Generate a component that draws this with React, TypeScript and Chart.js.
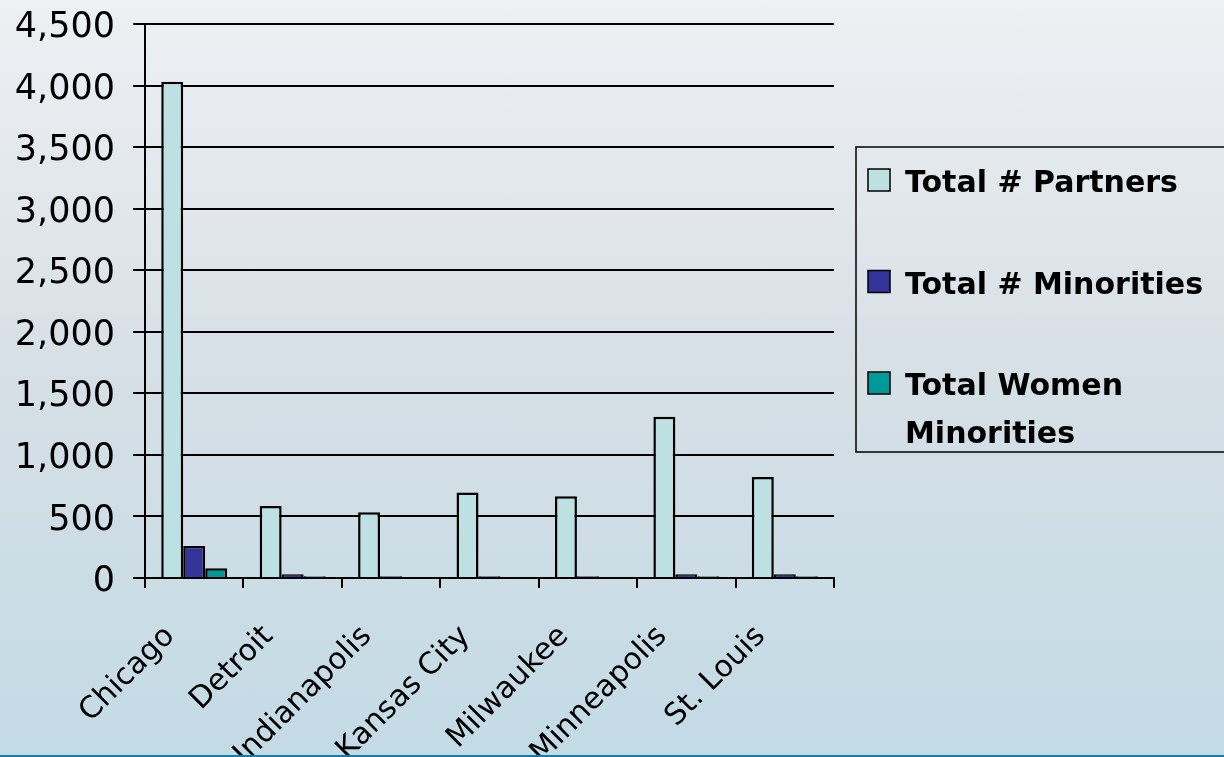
import { useEffect, useRef } from "react";
import { Chart, registerables } from "chart.js";

Chart.register(...registerables);

// Partner counts by office city
const cities = ["Chicago", "Detroit", "Indianapolis", "Kansas City", "Milwaukee", "Minneapolis", "St. Louis"];
const totalPartners = [4030, 585, 535, 695, 665, 1310, 820];
const totalMinorities = [260, 30, 15, 15, 15, 30, 30];
const totalWomenMinorities = [80, 15, 0, 0, 0, 15, 15];
const seriesNames = ["Total # Partners", "Total # Minorities", "Total Women Minorities"];
const seriesColors = ["#bde0e3", "#333399", "#009999"];
const yMax = 4500;
const yStep = 500;

const FONT = '"DejaVu Sans", Verdana, sans-serif';

// Framed legend on the right, with word wrapping for long series names
const boxedLegend = {
  id: "boxedLegend",
  afterDraw(chart: any) {
    const ctx = chart.ctx as CanvasRenderingContext2D;
    const boxLeft = 856;
    const boxTop = 147;
    const boxBottom = 452;
    ctx.save();
    ctx.strokeStyle = "#000";
    ctx.lineWidth = 1.5;
    ctx.strokeRect(boxLeft, boxTop, chart.width - boxLeft + 10, boxBottom - boxTop);

    ctx.font = `bold 30px ${FONT}`;
    ctx.textBaseline = "alphabetic";
    ctx.textAlign = "left";
    const textX = 905;
    const maxW = chart.width - textX - 2;
    let baseline = 192;
    chart.data.datasets.forEach((ds: any) => {
      ctx.fillStyle = ds.backgroundColor;
      ctx.fillRect(868, baseline - 23, 22, 22);
      ctx.strokeStyle = "#000";
      ctx.lineWidth = 1.5;
      ctx.strokeRect(868, baseline - 23, 22, 22);

      const words = String(ds.label).split(" ");
      const lines: string[] = [];
      let cur = "";
      for (const w of words) {
        const trial = cur ? cur + " " + w : w;
        if (cur && ctx.measureText(trial).width > maxW) {
          lines.push(cur);
          cur = w;
        } else {
          cur = trial;
        }
      }
      if (cur) lines.push(cur);
      ctx.fillStyle = "#000";
      lines.forEach((ln, i) => ctx.fillText(ln, textX, baseline + i * 48));
      baseline += 101.5;
    });
    ctx.restore();
  },
};

export default function App() {
  const canvasRef = useRef<HTMLCanvasElement>(null);

  useEffect(() => {
    if (!canvasRef.current) return;
    const values = [totalPartners, totalMinorities, totalWomenMinorities];
    const chart = new Chart(canvasRef.current, {
      type: "bar",
      data: {
        labels: cities,
        datasets: values.map((data, i) => ({
          label: seriesNames[i],
          data,
          backgroundColor: seriesColors[i],
          borderColor: "#000",
          borderWidth: 2.5,
          categoryPercentage: 0.67,
          barPercentage: 1,
        })),
      },
      options: {
        responsive: false,
        animation: false,
        layout: { padding: { top: 24, right: 390, left: 0, bottom: 0 } },
        plugins: {
          legend: { display: false },
          tooltip: { enabled: false },
        },
        scales: {
          x: {
            grid: {
              display: true,
              drawOnChartArea: false,
              drawTicks: true,
              tickLength: 10,
              color: "#000",
              lineWidth: 2,
              offset: true,
            },
            border: { display: true, color: "#000", width: 2 },
            ticks: {
              autoSkip: false,
              maxRotation: 45,
              minRotation: 45,
              padding: 31,
              labelOffset: -24,
              color: "#000",
              font: { family: FONT, size: 30 },
            },
            afterFit: (s: any) => {
              s.height = 757 - 578;
            },
          },
          y: {
            min: 0,
            max: yMax,
            ticks: {
              stepSize: yStep,
              padding: 18,
              labelOffset: 4,
              color: "#000",
              // single-line labels: a small line height keeps the top edge padding tight
              font: { family: FONT, size: 35, lineHeight: 0.2 },
            },
            grid: { color: "#000", lineWidth: 2, tickLength: 12, drawTicks: true },
            border: { display: true, color: "#000", width: 2 },
            afterFit: (s: any) => {
              s.width = 145;
            },
          },
        },
      },
      plugins: [boxedLegend],
    });
    return () => chart.destroy();
  }, []);

  return (
    <div
      style={{
        position: "fixed",
        left: 0,
        top: 0,
        width: 1224,
        height: 757,
        overflow: "hidden",
        background: "linear-gradient(to bottom, #eef0f3 0%, #d6dfe6 50%, #c3dbe5 100%)",
      }}
    >
      <canvas ref={canvasRef} width={1224} height={757} style={{ display: "block" }} />
      <div
        style={{
          position: "absolute",
          left: 0,
          bottom: 0,
          width: 1224,
          height: 2,
          background: "#1180a6",
        }}
      />
    </div>
  );
}
